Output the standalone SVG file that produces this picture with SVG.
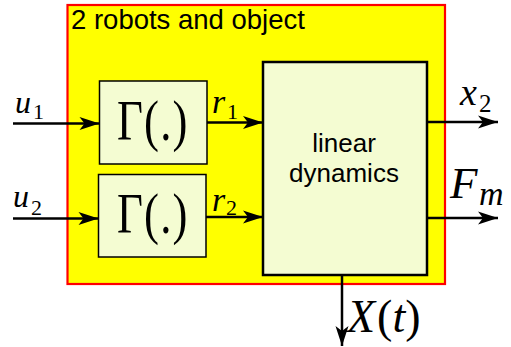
<svg xmlns="http://www.w3.org/2000/svg" width="511" height="347" viewBox="0 0 511 347">
<style>
.box{fill:#f4fcd2;stroke:#000}
.m{font-family:"Liberation Serif","DejaVu Serif",serif;font-style:italic;fill:#000}
.n{font-family:"Liberation Serif","DejaVu Serif",serif;font-style:normal;fill:#000}
.s{font-family:"Liberation Sans",Arial,sans-serif;fill:#000}
.c{fill:none;stroke:#000;stroke-width:2.5}
</style>
<defs>
<marker id="ah" markerUnits="userSpaceOnUse" markerWidth="24" markerHeight="16" viewBox="-21 -8 24 16" refX="0" refY="0" orient="auto">
<path d="M0,0 L-20,-6.5 L-15,0 L-20,6.5 Z" fill="#000"/>
</marker>
</defs>
<g id="system">
<rect x="67.5" y="5" width="377.5" height="279" fill="#ffff00" stroke="#ff0000" stroke-width="2.2"/>
<text class="s" x="71" y="29" font-size="27.5">2 robots and object</text>
</g>
<g id="gamma1">
<rect class="box" x="99.5" y="81" width="107.5" height="83" stroke-width="1.5"/>
<text class="n" x="117" y="140" font-size="56" letter-spacing="1.5" transform="translate(117 140) scale(0.8 1) translate(-117 -140)">Γ(.)</text>
</g>
<g id="gamma2">
<rect class="box" x="98.5" y="174.5" width="107.5" height="82.5" stroke-width="1.5"/>
<text class="n" x="117" y="233" font-size="56" letter-spacing="1.5" transform="translate(117 233) scale(0.8 1) translate(-117 -233)">Γ(.)</text>
</g>
<g id="dynamics">
<rect class="box" x="263" y="62" width="164" height="213" stroke-width="2.5"/>
<text class="s" x="344" y="152" font-size="26" text-anchor="middle">linear</text>
<text class="s" x="344" y="182" font-size="26" text-anchor="middle">dynamics</text>
</g>
<g id="connectors">
<path class="c" d="M13,123.5 H99.5" marker-end="url(#ah)"/>
<path class="c" d="M13,218.5 H98.5" marker-end="url(#ah)"/>
<path class="c" d="M207,122.5 H263" marker-end="url(#ah)"/>
<path class="c" d="M206,217 H263" marker-end="url(#ah)"/>
<path class="c" d="M427,122 H498" marker-end="url(#ah)"/>
<path class="c" d="M427,218 H498" marker-end="url(#ah)"/>
<path class="c" d="M342,275 V346" marker-end="url(#ah)"/>
</g>
<g id="labels">
<text class="m" x="15" y="113" font-size="32">u</text>
<text class="n" x="33" y="119" font-size="22">1</text>
<text class="m" x="13" y="207" font-size="32">u</text>
<text class="n" x="31" y="215" font-size="22">2</text>
<text class="m" x="212" y="113" font-size="34">r</text>
<text class="n" x="227" y="119" font-size="22">1</text>
<text class="m" x="212" y="211" font-size="34">r</text>
<text class="n" x="226" y="215" font-size="22">2</text>
<text class="m" x="460" y="105" font-size="38">x</text>
<text class="n" x="479" y="112" font-size="25">2</text>
<text class="m" x="450" y="198" font-size="45">F</text>
<text class="m" x="479" y="205" font-size="34">m</text>
<text x="347" y="332" font-size="46"><tspan class="m">X</tspan><tspan class="n" dx="2">(</tspan><tspan class="m">t</tspan><tspan class="n">)</tspan></text>
</g>
</svg>
